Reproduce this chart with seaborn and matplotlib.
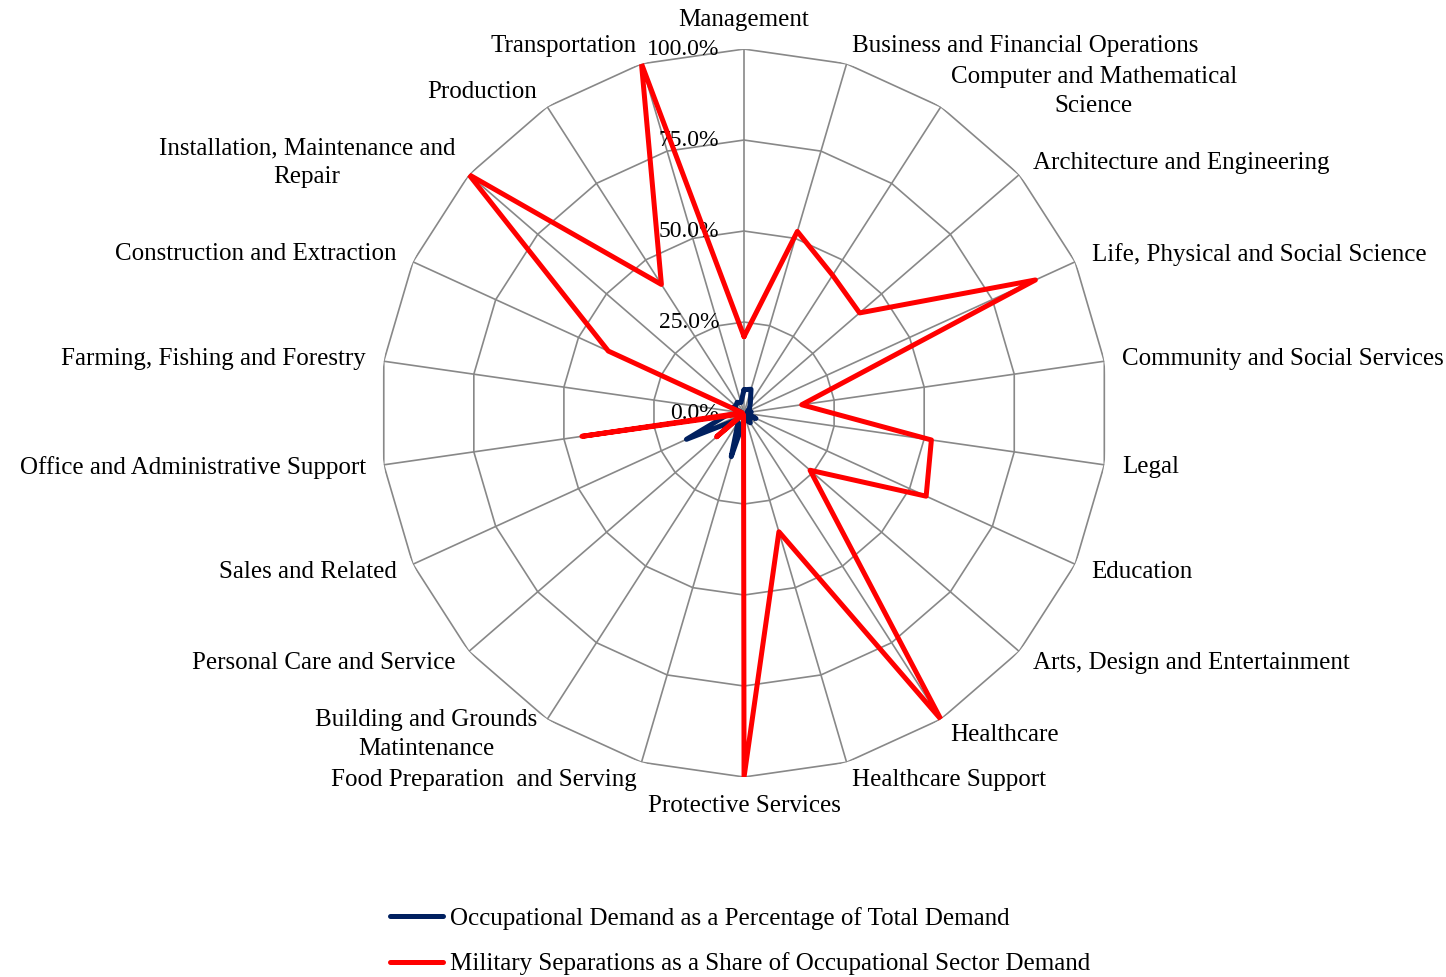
import numpy as np
import pandas as pd
import seaborn as sns
import matplotlib.pyplot as plt
from matplotlib.lines import Line2D
from matplotlib.transforms import offset_copy

# occupational sectors, clockwise from the top
categories = [
    "Management",
    "Business and Financial Operations",
    "Computer and Mathematical\nScience",
    "Architecture and Engineering",
    "Life, Physical and Social Science",
    "Community and Social Services",
    "Legal",
    "Education",
    "Arts, Design and Entertainment",
    "Healthcare",
    "Healthcare Support",
    "Protective Services",
    "Food Preparation  and Serving",
    "Building and Grounds\nMatintenance",
    "Personal Care and Service",
    "Sales and Related",
    "Office and Administrative Support",
    "Farming, Fishing and Forestry",
    "Construction and Extraction",
    "Installation, Maintenance and\nRepair",
    "Production",
    "Transportation",
]

# percentages
demand_pct = [6.4, 6.8, 3.2, 2.0, 1.0, 2.0, 1.0, 3.6, 1.5, 3.2, 2.0, 2.0,
              12.5, 3.0, 3.0, 17.4, 5.0, 0.5, 3.5, 3.0, 3.5, 3.0]
separations_pct = [21, 52, 45, 42, 88, 16, 52, 55, 24, 100, 34, 100,
                   0.5, 0.5, 10, 0.5, 45, 0.5, 41, 100, 42, 100]

series_names = ["Occupational Demand as a Percentage of Total Demand",
                "Military Separations as a Share of Occupational Sector Demand"]
series_colors = ["#002060", "#FF0000"]
ring_levels = [0.25, 0.5, 0.75, 1.0]

sns.set_theme(style="white")
plt.rcParams["font.family"] = ["Liberation Serif", "DejaVu Serif"]
plt.rcParams["text.color"] = "black"

n = len(categories)
angles = np.arange(n) * 2 * np.pi / n

# long table, loop closed by repeating the first point at 2*pi
rows = []
for name, vals in zip(series_names, [demand_pct, separations_pct]):
    for i in range(n):
        rows.append({"series": name, "angle": angles[i], "value": vals[i] / 100})
    rows.append({"series": name, "angle": 2 * np.pi, "value": vals[0] / 100})
df = pd.DataFrame(rows)

fig = plt.figure(figsize=(14.46, 9.77), dpi=100)
ax = fig.add_axes([0.2628, 0.2047, 0.5035, 0.7451], projection="polar")
ax.set_theta_zero_location("N")
ax.set_theta_direction(-1)
ax.set_ylim(0, 1)
ax.grid(False)
ax.set_xticks([])
ax.set_yticks([])
ax.spines["polar"].set_visible(False)

grid_col = "#888888"
for r in ring_levels:
    ax.plot(np.append(angles, angles[0]), [r] * (n + 1), color=grid_col, lw=1.2, zorder=1)
for a in angles:
    ax.plot([a, a], [0, 1], color=grid_col, lw=1.2, zorder=1)

sns.lineplot(data=df, x="angle", y="value", hue="series", hue_order=series_names,
             palette=series_colors, sort=False, estimator=None, linewidth=3.6,
             legend=False, ax=ax, zorder=3)
ax.set_xlabel("")
ax.set_ylabel("")

# value labels along the top spoke
tick_tr = offset_copy(ax.transData, fig=fig, x=-25, y=0, units="dots")
for r in [0.0] + ring_levels:
    ax.text(0, r, f"{r * 100:.1f}%", transform=tick_tr, ha="right", va="center",
            fontsize=17, color="black", zorder=2)

# category labels just outside the outer ring
for a, lab in zip(angles, categories):
    s, c = np.sin(a), np.cos(a)
    ha = "left" if s > 0.05 else ("right" if s < -0.05 else "center")
    va = "center"
    if abs(s) <= 0.05:
        va = "bottom" if c > 0 else "top"
    ax.text(a, 1.05, lab, ha=ha, va=va, multialignment="center",
            fontsize=18, linespacing=1.4, color="black")

handles = [Line2D([], [], color=col, lw=3.6) for col in series_colors]
fig.legend(handles, series_names, loc="upper left",
           bbox_to_anchor=(390 / 1446, 1 - 907 / 977), frameon=False,
           fontsize=18, handlelength=2.1, handletextpad=0.3,
           labelspacing=0.9, borderpad=0, borderaxespad=0, labelcolor="black")

fig.savefig("out.png", dpi=100)
